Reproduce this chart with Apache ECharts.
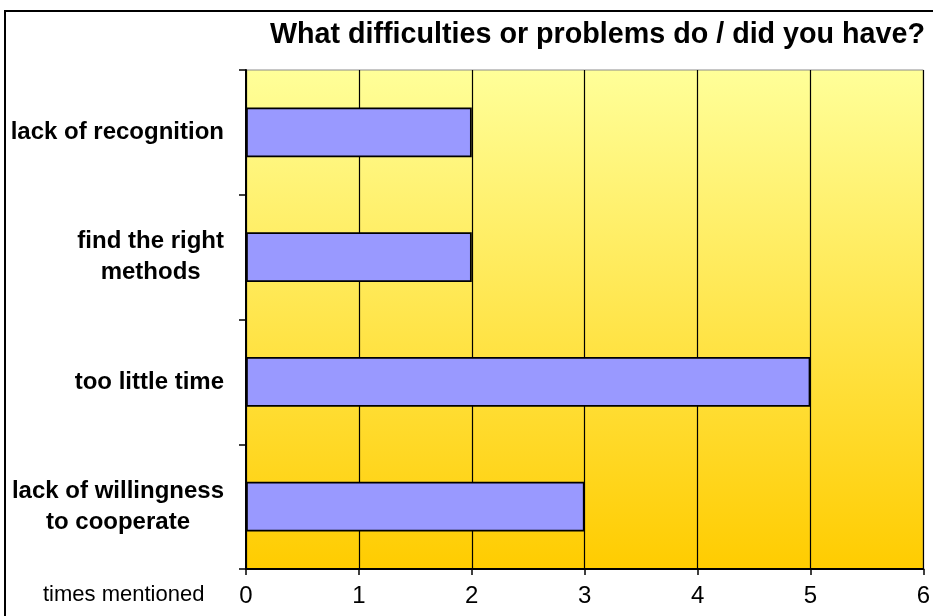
<!DOCTYPE html>
<html>
<head>
<meta charset="utf-8">
<script src="https://cdn.jsdelivr.net/npm/echarts@6/dist/echarts.min.js"></script>
<style>
html,body{margin:0;padding:0;background:#fff;}
#chart{width:933px;height:616px;}
</style>
</head>
<body>
<div id="chart"></div>
<script>
const titleText = 'What difficulties or problems do / did you have?';
const categories = ['lack of recognition', 'find the right\nmethods', 'too little time', 'lack of willingness\nto cooperate'];
const values = [2, 2, 5, 3];
const xTicks = [0, 1, 2, 3, 4, 5, 6];
const xAxisName = 'times mentioned';

const FONT = '"Liberation Sans", Arial, sans-serif';
const chart = echarts.init(document.getElementById('chart'), null, {renderer: 'canvas'});
chart.setOption({
  animation: false,
  backgroundColor: '#ffffff',
  title: {
    text: titleText,
    right: 3,
    top: 16,
    textStyle: {fontFamily: FONT, fontSize: 28.7, fontWeight: 'bold', color: '#000'}
  },
  grid: {
    left: 246, right: 5, top: 70, bottom: 47,
    show: true,
    borderColor: '#8c8c8c',
    borderWidth: 1,
    backgroundColor: new echarts.graphic.LinearGradient(0, 0, 0, 1, [
      {offset: 0, color: '#FFFF99'},
      {offset: 1, color: '#FFCC00'}
    ])
  },
  xAxis: {
    type: 'value',
    min: xTicks[0],
    max: xTicks[xTicks.length - 1],
    interval: 1,
    axisLine: {show: true, lineStyle: {color: '#000', width: 2}},
    axisTick: {show: true, length: 6, lineStyle: {color: '#000', width: 1.5}},
    splitLine: {show: true, lineStyle: {color: '#000', width: 1.2}},
    axisLabel: {fontFamily: FONT, fontSize: 24, color: '#000', margin: 15}
  },
  yAxis: {
    type: 'category',
    inverse: true,
    data: categories,
    axisLine: {show: true, lineStyle: {color: '#000', width: 2}},
    axisTick: {show: true, length: 7, lineStyle: {color: '#000', width: 1.5}},
    splitLine: {show: false},
    axisLabel: {
      margin: 22,
      align: 'right',
      color: '#000',
      formatter: function (v) {
        return v.split('\n').map(function (l) { return '{c|' + l + '}'; }).join('\n');
      },
      rich: {
        c: {fontFamily: FONT, fontSize: 24, fontWeight: 'bold', color: '#000', align: 'center', lineHeight: 31}
      }
    }
  },
  series: [{
    type: 'bar',
    data: values,
    barWidth: '40%',
    itemStyle: {color: '#9999FF', borderColor: '#000', borderWidth: 1.8}
  }],
  graphic: [
    {
      type: 'rect',
      shape: {x: 5, y: 11, width: 940, height: 620},
      style: {fill: 'none', stroke: '#000', lineWidth: 2},
      silent: true
    },
    {
      type: 'text',
      left: 43,
      top: 584,
      style: {text: xAxisName, fontFamily: FONT, fontSize: 22, fill: '#000'}
    }
  ]
});
</script>
</body>
</html>
